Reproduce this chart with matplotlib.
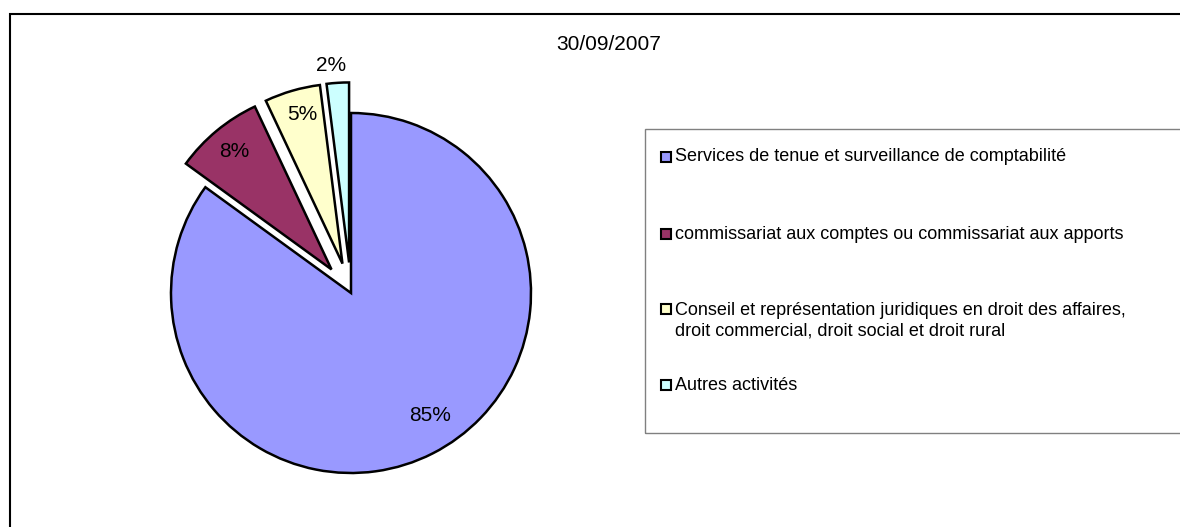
import numpy as np
import matplotlib.pyplot as plt
from matplotlib.patches import Rectangle

plt.rcParams['font.family'] = ['Liberation Sans', 'DejaVu Sans']

titre = '30/09/2007'
categories = ['Services de tenue et surveillance de comptabilité',
              'commissariat aux comptes ou commissariat aux apports',
              'Conseil et représentation juridiques en droit des affaires,\ndroit commercial, droit social et droit rural',
              'Autres activités']
valeurs = [85, 8, 5, 2]
couleurs = ['#9999FF', '#993366', '#FFFFCC', '#CCFFFF']
eclate = [0, 0.17, 0.17, 0.17]
# position des etiquettes : distance au centre et decalage d'angle
dist_lbl = [0.81, 0.85, 0.86, 1.10]
ang_lbl = [6, 0, -1, 1.6]

W, H = 1180, 527
fig = plt.figure(figsize=(W / 100, H / 100), dpi=100)

# cadre du graphique (coupe a droite et en bas)
fig.patches.append(Rectangle((10 / W, -20 / H), 1200 / W, (H - 14 + 20) / H,
                             transform=fig.transFigure, fill=False,
                             edgecolor='black', linewidth=1.5))

# camembert : centre (351, 293) px, rayon 180 px
cx, cy, R = 351, H - 293, 180
half = 250
ax = fig.add_axes([(cx - half) / W, (cy - half) / H, 2 * half / W, 2 * half / H])
wedges, texts, autotexts = ax.pie(valeurs, colors=couleurs, explode=eclate,
                                  startangle=90, counterclock=False,
                                  autopct='%1.0f%%',
                                  wedgeprops=dict(edgecolor='black', linewidth=1.8))
ax.set_xlim(-half / R, half / R)
ax.set_ylim(-half / R, half / R)
ax.set_aspect('equal')
ax.axis('off')

for w, t, d, da in zip(wedges, autotexts, dist_lbl, ang_lbl):
    ang = np.deg2rad((w.theta1 + w.theta2) / 2 + da)
    t.set_position((w.center[0] + d * np.cos(ang), w.center[1] + d * np.sin(ang)))
    t.set_fontsize(15)
    t.set_color('black')

fig.text(609 / W, 1 - 44 / H, titre, ha='center', va='center', fontsize=15)

# legende
fig.patches.append(Rectangle((645 / W, 1 - 433 / H), 600 / W, (433 - 129) / H,
                             transform=fig.transFigure, fill=False,
                             edgecolor='#808080', linewidth=1))
lignes_y = [157, 234, 309, 385]
for lab, c, y in zip(categories, couleurs, lignes_y):
    fig.patches.append(Rectangle((661 / W, 1 - (y + 5) / H), 10 / W, 10 / H,
                                 transform=fig.transFigure, facecolor=c,
                                 edgecolor='black', linewidth=1.5))
    n = lab.count('\n')
    yc = y + n * 11.5
    fig.text(675 / W, 1 - yc / H, lab, ha='left', va='center', fontsize=13,
             linespacing=1.25)

fig.savefig('out.png', dpi=100)
